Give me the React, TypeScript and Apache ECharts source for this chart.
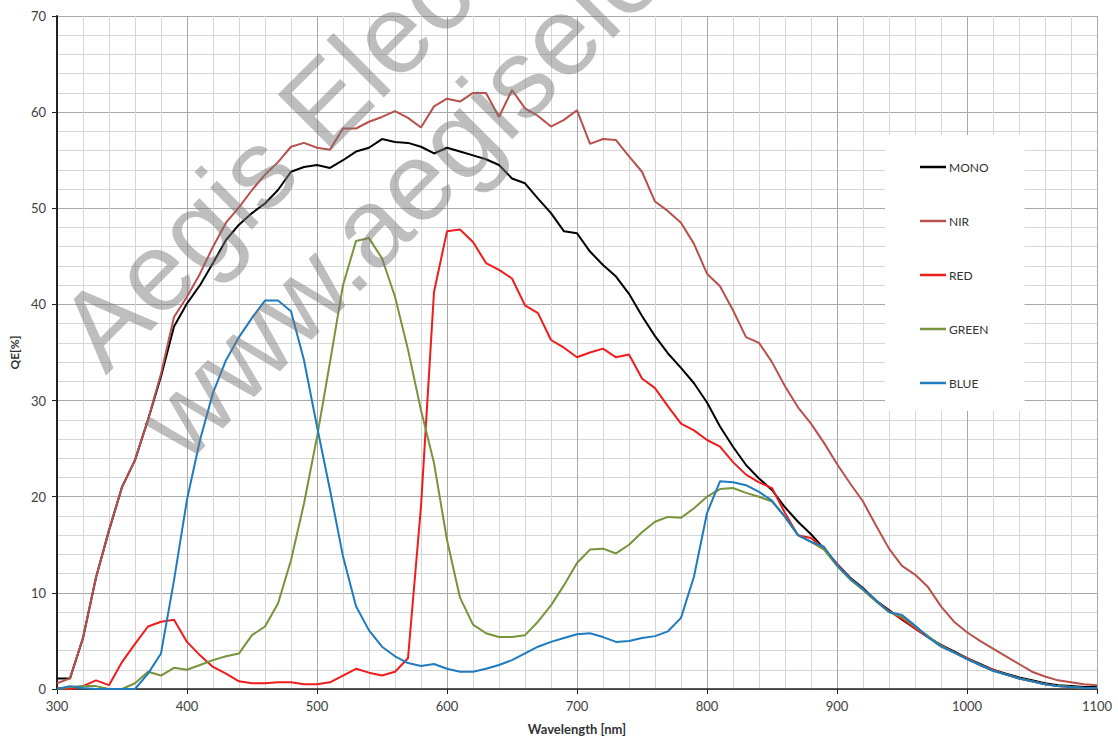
import React, { useEffect, useRef } from "react";
import * as echarts from "echarts";

const WAVELENGTHS = [
  300, 310, 320, 330, 340, 350, 360, 370, 380, 390,
  400, 410, 420, 430, 440, 450, 460, 470, 480, 490,
  500, 510, 520, 530, 540, 550, 560, 570, 580, 590,
  600, 610, 620, 630, 640, 650, 660, 670, 680, 690,
  700, 710, 720, 730, 740, 750, 760, 770, 780, 790,
  800, 810, 820, 830, 840, 850, 860, 870, 880, 890,
  900, 910, 920, 930, 940, 950, 960, 970, 980, 990,
  1000, 1010, 1020, 1030, 1040, 1050, 1060, 1070, 1080, 1090,
  1100,
];

const MONO = [
  1.1, 1.1, 5.3, 11.6, 16.5, 21.0, 23.8, 28.0, 32.5, 37.7,
  40.1, 42.0, 44.3, 46.7, 48.3, 49.5, 50.5, 51.9, 53.8, 54.3,
  54.5, 54.2, 55.0, 55.9, 56.3, 57.2, 56.9, 56.8, 56.4, 55.7,
  56.3, 55.9, 55.5, 55.1, 54.5, 53.1, 52.6, 51.0, 49.5, 47.6,
  47.4, 45.5, 44.1, 42.9, 41.1, 38.8, 36.7, 34.9, 33.4, 31.8,
  29.8, 27.3, 25.2, 23.3, 21.9, 20.7, 18.9, 17.4, 16.1, 14.6,
  13.0, 11.6, 10.5, 9.2, 8.2, 7.2, 6.3, 5.4, 4.6, 3.9,
  3.2, 2.6, 2.0, 1.6, 1.2, 0.9, 0.6, 0.4, 0.3, 0.2,
  0.2,
];

const NIR = [
  0.6, 1.1, 5.3, 11.6, 16.5, 21.0, 23.8, 28.0, 32.8, 38.7,
  40.8, 43.2, 46.0, 48.5, 50.1, 51.9, 53.5, 54.8, 56.4, 56.8,
  56.3, 56.1, 58.3, 58.3, 59.0, 59.5, 60.1, 59.4, 58.4, 60.6,
  61.4, 61.1, 62.0, 62.0, 59.5, 62.3, 60.4, 59.6, 58.5, 59.2,
  60.2, 56.7, 57.2, 57.1, 55.4, 53.8, 50.7, 49.7, 48.5, 46.3,
  43.2, 41.9, 39.4, 36.6, 36.0, 34.0, 31.5, 29.3, 27.6, 25.6,
  23.4, 21.4, 19.5, 17.0, 14.6, 12.8, 11.9, 10.6, 8.6, 7.0,
  5.9, 5.0, 4.2, 3.4, 2.6, 1.8, 1.3, 0.9, 0.7, 0.5,
  0.4,
];

const RED = [
  0.1, 0.0, 0.3, 0.9, 0.4, 2.8, 4.7, 6.5, 7.0, 7.2,
  4.9, 3.5, 2.3, 1.6, 0.8, 0.6, 0.6, 0.7, 0.7, 0.5,
  0.5, 0.7, 1.4, 2.1, 1.7, 1.4, 1.8, 3.2, 19.0, 41.3,
  47.6, 47.8, 46.5, 44.3, 43.6, 42.7, 39.9, 39.1, 36.3, 35.5,
  34.5, 35.0, 35.4, 34.5, 34.8, 32.3, 31.3, 29.4, 27.6, 26.9,
  25.9, 25.2, 23.6, 22.3, 21.5, 20.9, 18.3, 16.0, 15.7, 14.6,
  13.0, 11.5, 10.4, 9.2, 8.1, 7.3, 6.3, 5.4, 4.5, 3.8,
  3.2, 2.5, 2.0, 1.5, 1.1, 0.8, 0.5, 0.3, 0.2, 0.1,
  0.1,
];

const GREEN = [
  0.0, 0.2, 0.3, 0.3, 0.0, 0.0, 0.6, 1.8, 1.4, 2.2,
  2.0, 2.5, 3.0, 3.4, 3.7, 5.6, 6.5, 8.9, 13.4, 19.3,
  26.2, 34.0, 42.0, 46.6, 46.9, 44.8, 40.8, 35.3, 29.0, 23.5,
  15.5, 9.5, 6.7, 5.8, 5.4, 5.4, 5.6, 7.0, 8.7, 10.8,
  13.1, 14.5, 14.6, 14.1, 15.0, 16.3, 17.4, 17.9, 17.8, 18.8,
  20.0, 20.8, 20.9, 20.4, 20.0, 19.5, 17.9, 16.0, 15.3, 14.5,
  12.8, 11.4, 10.3, 9.1, 8.0, 7.5, 6.5, 5.5, 4.5, 3.8,
  3.1, 2.5, 1.9, 1.5, 1.1, 0.8, 0.5, 0.3, 0.2, 0.1,
  0.1,
];

const BLUE = [
  0.0, 0.3, 0.1, 0.0, 0.0, 0.0, 0.0, 1.6, 3.7, 11.3,
  19.7, 25.9, 30.8, 34.2, 36.6, 38.6, 40.4, 40.4, 39.3, 34.2,
  27.3, 20.7, 13.8, 8.6, 6.1, 4.4, 3.4, 2.7, 2.4, 2.6,
  2.1, 1.8, 1.8, 2.1, 2.5, 3.0, 3.7, 4.4, 4.9, 5.3,
  5.7, 5.8, 5.4, 4.9, 5.0, 5.3, 5.5, 6.0, 7.4, 11.7,
  18.3, 21.6, 21.5, 21.2, 20.5, 19.6, 17.9, 16.0, 15.3, 14.8,
  12.9, 11.5, 10.4, 9.2, 8.0, 7.7, 6.6, 5.4, 4.4, 3.8,
  3.1, 2.5, 1.9, 1.5, 1.1, 0.8, 0.5, 0.3, 0.2, 0.1,
  0.1,
];

const SERIES = [
  { name: "MONO", values: MONO, color: "#000000" },
  { name: "NIR", values: NIR, color: "#b8504c" },
  { name: "RED", values: RED, color: "#ee1c1c" },
  { name: "GREEN", values: GREEN, color: "#77933c" },
  { name: "BLUE", values: BLUE, color: "#1f7bbf" },
];

const WATERMARK_1 = "Aegis Electronic Group";
const WATERMARK_2 = "www.aegiselect.com";

export default function App() {
  const ref = useRef<HTMLDivElement>(null);

  useEffect(() => {
    if (!ref.current) return;
    const chart = echarts.init(ref.current, undefined, { renderer: "svg" });
    const font = "Lato, 'Open Sans', sans-serif";
    const wmStyle = {
      fontSize: 112,
      fontFamily: "'Liberation Sans', Arial, sans-serif",
      fill: "rgba(120,120,120,0.48)",
      align: "left",
      textAlign: "left",
      verticalAlign: "bottom",
      textVerticalAlign: "bottom",
    };
    const rot = Math.PI / 4;
    chart.setOption({
      animation: false,
      backgroundColor: "#ffffff",
      grid: { left: 57, right: 21, top: 16, bottom: 51, containLabel: false },
      legend: {
        orient: "vertical",
        left: 885,
        top: 135,
        padding: [26, 36, 22, 35],
        backgroundColor: "#ffffff",
        icon: "rect",
        itemWidth: 26,
        itemHeight: 2.5,
        itemGap: 42,
        textStyle: { color: "#333333", fontSize: 12, fontFamily: font, padding: [0, 0, 0, -2] },
        data: SERIES.map((s) => s.name),
      },
      xAxis: {
        type: "value",
        min: 300,
        max: 1100,
        interval: 100,
        name: "Wavelength [nm]",
        nameLocation: "middle",
        nameGap: 33,
        nameTextStyle: { fontWeight: "bold", fontSize: 13, color: "#333333", fontFamily: font },
        axisLine: { show: true, onZero: false, lineStyle: { color: "#222222", width: 1.5 } },
        axisTick: { show: true, length: 5, inside: false, lineStyle: { color: "#222222" } },
        axisLabel: {
          color: "#404040",
          fontSize: 13,
          margin: 10,
          fontFamily: font,
          formatter: (v: number) => String(v),
        },
        splitLine: { show: true, lineStyle: { color: "#a8a8a8", width: 1 } },
        minorTick: { show: false, splitNumber: 5 },
        minorSplitLine: { show: true, lineStyle: { color: "#d6d6d6", width: 1 } },
      },
      yAxis: {
        type: "value",
        min: 0,
        max: 70,
        interval: 10,
        name: "QE[%]",
        nameLocation: "middle",
        nameGap: 29,
        nameTextStyle: { fontWeight: "bold", fontSize: 12, color: "#333333", fontFamily: font },
        axisLine: { show: true, lineStyle: { color: "#222222", width: 2 } },
        axisTick: { show: true, length: 5, inside: false, lineStyle: { color: "#222222" } },
        axisLabel: { color: "#404040", fontSize: 13, margin: 11, fontFamily: font },
        splitLine: { show: true, lineStyle: { color: "#a8a8a8", width: 1 } },
        minorTick: { show: false, splitNumber: 5 },
        minorSplitLine: { show: true, lineStyle: { color: "#d6d6d6", width: 1 } },
      },
      series: SERIES.map((s) => ({
        name: s.name,
        type: "line",
        symbol: "none",
        showSymbol: false,
        data: WAVELENGTHS.map((w, i) => [w, s.values[i]]),
        lineStyle: { color: s.color, width: 2 },
        itemStyle: { color: s.color },
        emphasis: { disabled: true },
      })),
      graphic: [
        {
          type: "text",
          x: 118,
          y: 388,
          rotation: rot,
          z: 100,
          silent: true,
          style: { ...wmStyle, text: WATERMARK_1 },
        },
        {
          type: "text",
          x: 198,
          y: 478,
          rotation: rot,
          z: 100,
          silent: true,
          style: { ...wmStyle, text: WATERMARK_2 },
        },
      ],
    });
    return () => chart.dispose();
  }, []);

  return (
    <div
      ref={ref}
      style={{ position: "fixed", left: 0, top: 0, width: 1118, height: 740 }}
    />
  );
}
